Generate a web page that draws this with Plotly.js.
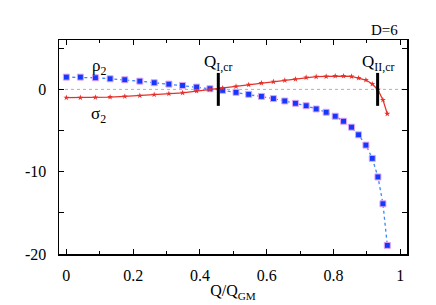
<!DOCTYPE html>
<html>
<head>
<meta charset="utf-8">
<script src="https://cdn.plot.ly/plotly-3.0.1.min.js"></script>
<style>html,body{margin:0;padding:0;background:#fff;}#chart{width:436px;height:305px;}</style>
</head>
<body>
<div id="chart"></div>
<script>
const qValues = [0, 0.042, 0.087, 0.131, 0.175, 0.22, 0.263, 0.307, 0.348, 0.39, 0.43, 0.468, 0.508, 0.546, 0.584, 0.62, 0.654, 0.686, 0.718, 0.748, 0.778, 0.805, 0.83, 0.854, 0.875, 0.897, 0.916, 0.933, 0.948, 0.961];
const rho2 = [1.49, 1.49, 1.41, 1.29, 1.17, 1.0, 0.81, 0.64, 0.48, 0.28, 0.08, -0.12, -0.36, -0.6, -0.85, -1.12, -1.41, -1.69, -1.99, -2.38, -2.78, -3.26, -3.87, -4.59, -5.52, -6.77, -8.38, -10.64, -13.9, -18.95];
const sigma2 = [-1.0, -1.0, -0.97, -0.93, -0.85, -0.76, -0.64, -0.52, -0.42, -0.2, 0.0, 0.16, 0.36, 0.56, 0.77, 0.93, 1.09, 1.25, 1.45, 1.54, 1.57, 1.62, 1.62, 1.57, 1.38, 1.14, 0.65, -0.05, -1.28, -2.97];
const critQ = [0.455, 0.932];
const critLabels = ['Q<sub>I,cr</sub>', 'Q<sub>II,cr</sub>'];
const critSpan = [2.0, -2.0];
const xRange = [-0.022, 1.02];
const yRange = [-20, 6];
const xTicks = [0, 0.2, 0.4, 0.6, 0.8, 1];
const xTickText = ['0', '0.2', '0.4', '0.6', '0.8', '1'];
const yTicks = [-20, -10, 0];
const yTickText = ['-20', '-10', '0'];

const serif = 'Times New Roman';

const traces = [
  {x: xRange, y: [0, 0], mode: 'lines', line: {color: '#b0b0b0', width: 1, dash: 'dot'}, hoverinfo: 'skip'},
  {x: qValues, y: rho2, mode: 'lines+markers',
   line: {color: '#3a86ff', width: 1.3, dash: 'dot'},
   marker: {symbol: 'square', size: 6, color: '#1538ff', line: {color: '#e2a6f2', width: 1}}},
  {x: qValues, y: sigma2, mode: 'lines+markers',
   line: {color: '#e8302a', width: 1.3},
   marker: {symbol: 'star', size: 4.5, color: '#e8302a'}}
];
critQ.forEach(q => {
  traces.push({x: [q, q], y: critSpan, mode: 'lines', line: {color: '#000', width: 3}, hoverinfo: 'skip'});
});

const annotations = [
  {x: 0.097, y: 2.7, text: 'ρ<sub>2</sub>', showarrow: false, font: {family: serif, size: 17, color: '#000'}},
  {x: 0.097, y: -3.1, text: 'σ<sub>2</sub>', showarrow: false, font: {family: serif, size: 17, color: '#000'}},
  {xref: 'x', yref: 'paper', x: 1.0, y: 1.0, xanchor: 'right', yanchor: 'bottom', text: 'D=6', showarrow: false, font: {family: serif, size: 15, color: '#000'}}
];
critQ.forEach((q, i) => {
  annotations.push({x: q, y: 3.2, text: critLabels[i], showarrow: false, font: {family: serif, size: 17, color: '#000'}});
});

const axisCommon = {
  showgrid: false, zeroline: false, showline: true, linecolor: '#000', linewidth: 1.5,
  mirror: 'allticks', ticks: 'inside', ticklen: 5, tickcolor: '#000', tickwidth: 1,
  tickfont: {family: serif, size: 16, color: '#000'}
};

const layout = {
  width: 436, height: 305,
  margin: {l: 59, r: 29, t: 40, b: 51},
  paper_bgcolor: '#fff', plot_bgcolor: '#fff',
  font: {family: serif, color: '#000'},
  showlegend: false,
  xaxis: Object.assign({}, axisCommon, {
    range: xRange, tickvals: xTicks, ticktext: xTickText, ticklabelstandoff: 6,
    minor: {tickvals: [0.1, 0.3, 0.5, 0.7, 0.9], ticks: 'inside', ticklen: 3, tickcolor: '#000'},
    title: {text: 'Q/Q<sub>GM</sub>', font: {family: serif, size: 16, color: '#000'}, standoff: 2}
  }),
  yaxis: Object.assign({}, axisCommon, {
    range: yRange, tickvals: yTicks, ticktext: yTickText, ticklabelstandoff: 8,
    minor: {tickvals: [-15, -5, 5], ticks: 'inside', ticklen: 5, tickcolor: '#000'}
  }),
  annotations: annotations
};

Plotly.newPlot('chart', traces, layout, {staticPlot: true, displayModeBar: false});
</script>
</body>
</html>
